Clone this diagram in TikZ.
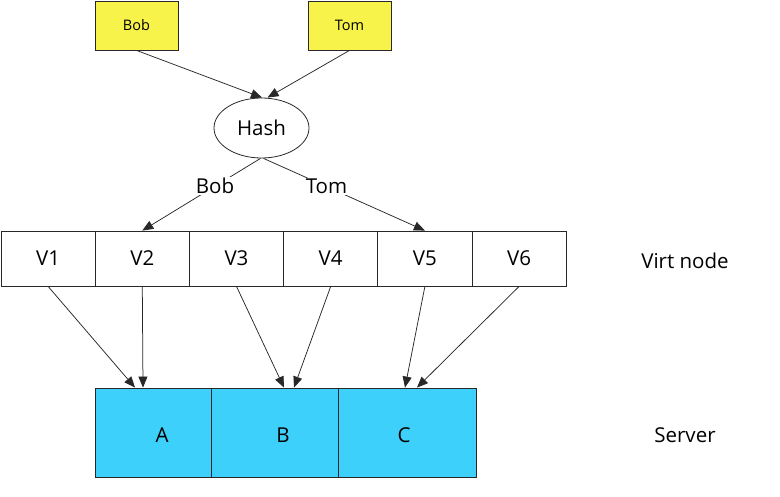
\documentclass[tikz,border=0pt]{standalone}
\usepackage{fontspec}
\setmainfont{Open Sans}
\usetikzlibrary{arrows.meta,calc,shapes.geometric}
\definecolor{boxyellow}{RGB}{248,243,74}
\definecolor{servercyan}{RGB}{60,208,250}
\definecolor{edge}{RGB}{40,40,40}
\tikzset{
  keybox/.style={draw=edge,line width=0.8pt,fill=boxyellow,minimum width=83pt,minimum height=49pt,inner sep=0pt,font=\fontsize{14.5}{17}\selectfont},
  vcell/.style={draw=edge,line width=0.8pt,fill=white,minimum width=94.2pt,minimum height=55pt,inner sep=0pt,font=\fontsize{20.5}{24}\selectfont},
  srv/.style={draw=edge,line width=0.8pt,fill=servercyan,minimum height=89pt,inner sep=0pt},
  txt/.style={font=\fontsize{20.5}{24}\selectfont,inner sep=1pt},
  arr/.style={draw=edge,line width=0.75pt,-{Triangle[length=11pt,width=9pt]}},
}
\begin{document}
\begin{tikzpicture}[x=1pt,y=-1pt]
\useasboundingbox (0,0) rectangle (780,497);
% key boxes
\node[keybox] (bob) at (136.5,25.5) {Bob};
\node[keybox] (tom) at (349.5,25.5) {Tom};
% hash
\node[ellipse,draw=edge,line width=0.8pt,minimum width=95pt,minimum height=60pt,inner sep=0pt,font=\fontsize{20.5}{24}\selectfont] (hash) at (261.5,128) {Hash};
% virtual nodes
\foreach \i in {1,...,6}{
  \node[vcell] (v\i) at ({1+94.2*(\i-0.5)},258.5) {V\i};
}
\node[txt] (virt) at (685,261) {Virt node};
% servers
\node[srv,minimum width=116pt] (a) at (153,432.5) {};
\node[srv,minimum width=127pt] (b) at (274.5,432.5) {};
\node[srv,minimum width=138pt] (c) at (407,432.5) {};
\node[txt] (la) at (162,435) {A};
\node[txt] (lb) at (283,435) {B};
\node[txt] (lc) at (404,435) {C};
\node[txt] (server) at (685,435) {Server};
% arrows from keys to hash
\draw[arr] (bob.south) -- ([xshift=0.5pt]hash.north);
\draw[arr] (tom.south) -- ([xshift=6pt]hash.north);
% hash to virtual nodes
\draw[arr] ([xshift=-1pt]hash.south) -- node[pos=0.385,fill=white,txt] {Bob} (v2.north);
\draw[arr] ([xshift=2pt]hash.south) -- node[pos=0.39,fill=white,txt] {Tom} (v5.north);
% virtual nodes to servers
\draw[arr] (v1.south) -- ([xshift=-18pt]a.north);
\draw[arr] (v2.south) -- ([xshift=-10pt]a.north);
\draw[arr] (v3.south) -- ([xshift=9.5pt]b.north);
\draw[arr] (v4.south) -- ([xshift=19.5pt]b.north);
\draw[arr] (v5.south) -- ([xshift=-2pt]c.north);
\draw[arr] (v6.south) -- ([xshift=10pt]c.north);
\end{tikzpicture}
\end{document}
